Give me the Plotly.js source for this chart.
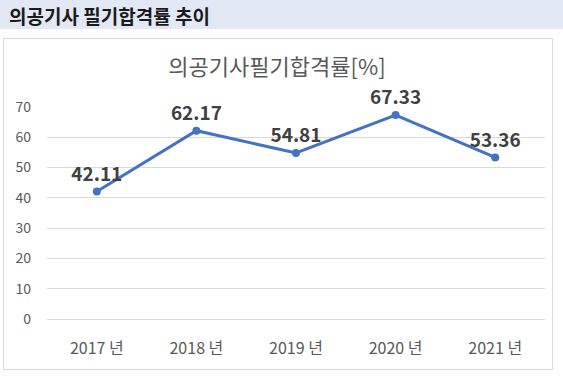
<!DOCTYPE html>
<html><head><meta charset="utf-8">
<script src="https://cdn.plot.ly/plotly-3.0.1.min.js"></script>
<style>html,body{margin:0;padding:0;background:#fff;}#c{width:563px;height:378px;}</style>
</head><body><div id="c"></div>
<script>
const years = ['2017 년','2018 년','2019 년','2020 년','2021 년'];
const rates = [42.11, 62.17, 54.81, 67.33, 53.36];
const yTicks = [0,10,20,30,40,50,60,70];

const L=47, R=18, T=107, B=59, W=563, H=378;
const pw=W-L-R, ph=H-T-B;
const px = x => (x-L)/pw;
const py = y => (H-B-y)/ph;
const font = "'Noto Sans CJK KR', 'Noto Sans', sans-serif";

const trace = {
  x: years, y: rates, type:'scatter', mode:'lines+markers+text',
  text: rates.map(v=>v.toFixed(2)), textposition:'top center',
  textfont:{family:font, size:19, color:'#404040', weight:'bold'},
  line:{color:'#4472C4', width:3}, marker:{color:'#4472C4', size:8},
  cliponaxis:false, hoverinfo:'none'
};
const layout = {
  width:W, height:H, margin:{l:L,r:R,t:T,b:B},
  paper_bgcolor:'#fff', plot_bgcolor:'#fff', showlegend:false,
  font:{family:font, color:'#595959'},
  xaxis:{type:'category', range:[-0.5,4.5], showgrid:false, zeroline:false, showline:false, ticks:'',
    tickfont:{size:16, color:'#595959', family:font}, ticklabelstandoff:18, fixedrange:true},
  yaxis:{range:[0,70], tickvals:yTicks, showgrid:true, gridcolor:'#d9d9d9', gridwidth:1,
    zeroline:true, zerolinecolor:'#d9d9d9', zerolinewidth:1, showline:false, ticks:'',
    tickfont:{size:14, color:'#595959', family:font}, ticklabelstandoff:15, fixedrange:true},
  title:{text:'의공기사필기합격률[%]', x:px(277), xref:'paper', xanchor:'center', y:1-67/H, yanchor:'middle',
    font:{size:22, color:'#595959', family:font}},
  shapes:[
    {type:'rect', xref:'paper', yref:'paper', x0:px(0), x1:px(563), y0:py(29), y1:py(0),
     fillcolor:'#e2e9f5', line:{width:0}, layer:'below'},
    {type:'rect', xref:'paper', yref:'paper', x0:px(3.5), x1:px(552.5), y0:py(369.5), y1:py(38.5),
     fillcolor:'rgba(0,0,0,0)', line:{width:1, color:'#d9d9d9'}, layer:'below'}
  ],
  annotations:[
    {text:'<b>의공기사 필기합격률 추이</b>', xref:'paper', yref:'paper', x:px(7), y:py(15),
     xanchor:'left', yanchor:'middle', showarrow:false, font:{size:19, color:'#1a1a1a', family:font}}
  ]
};
Plotly.newPlot('c',[trace],layout,{displayModeBar:false, staticPlot:true});
</script></body></html>
